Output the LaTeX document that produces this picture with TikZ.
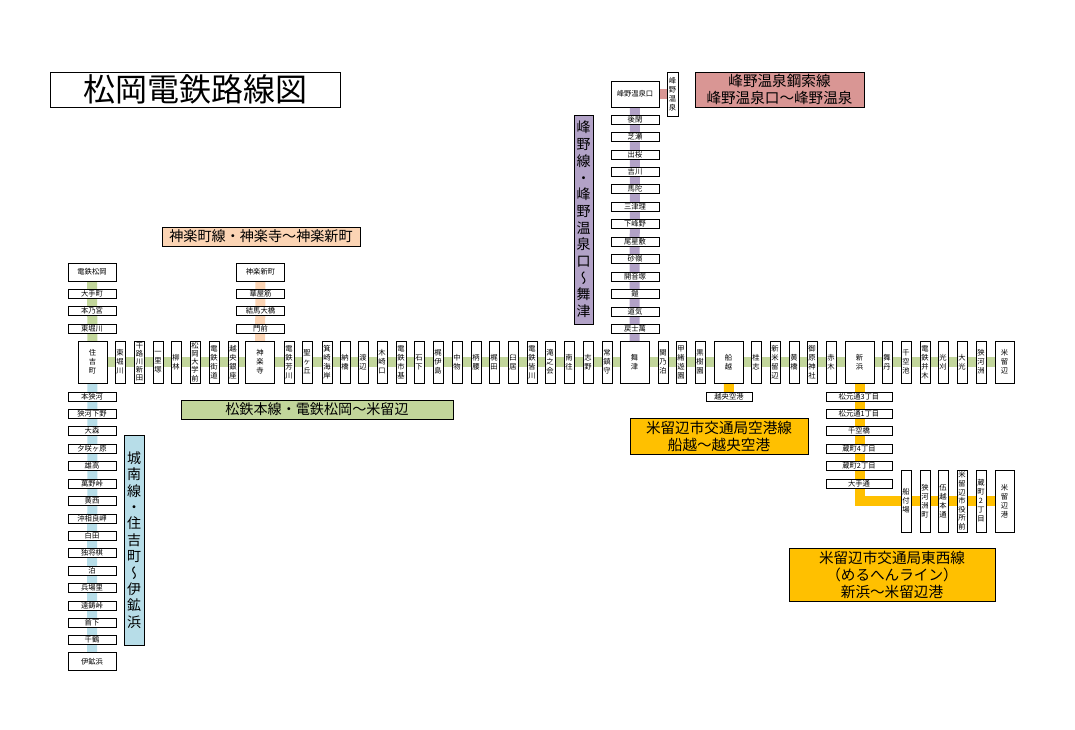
\documentclass[tikz,border=0pt]{standalone}
\usepackage{fontspec}
\setmainfont{Noto Sans CJK JP}
\newfontfamily\tatefont[RawFeature=+vert]{Noto Sans CJK JP}
\usetikzlibrary{backgrounds}

\definecolor{honsen}{RGB}{194,214,155}
\definecolor{jonan}{RGB}{183,221,232}
\definecolor{kagura}{RGB}{251,212,180}
\definecolor{mineno}{RGB}{178,162,199}
\definecolor{kosaku}{RGB}{217,150,148}
\definecolor{kotsu}{RGB}{255,192,0}

% characters stacked one under another
\makeatletter
\def\tateloop{\@tfor\tatechar:=}
\newcommand{\tate}[2][9pt]{\edef\tatelist{#2}\vbox{\baselineskip=#1\lineskiplimit=-100pt
	\expandafter\tateloop\tatelist\do{\hbox to 1em{\hss\tatechar\hss}}}}
\makeatother

\tikzset{
	stn/.style={draw=black,fill=white,line width=.8pt,inner sep=0pt,font=\fontsize{7.3}{9}\selectfont},
	yokobox/.style={stn,minimum width=48pt,minimum height=9pt},
	yokobig/.style={stn,minimum width=48pt,minimum height=18pt},
	tatebox/.style={stn,minimum width=10pt,minimum height=42pt},
	tatebig/.style={stn,minimum width=29pt,minimum height=42pt},
	tatelow/.style={stn,minimum width=10pt,minimum height=62pt},
	sen/.style={line width=#1,line join=miter},
	sen/.default=10pt,
	label/.style={draw=black,line width=.8pt,inner sep=0pt,align=center,font=\fontsize{14.6}{17}\selectfont},
	labelone/.style={label,font=\fontsize{14.1}{17}\selectfont},
	labeltate/.style={label,font=\fontsize{14}{17}\tatefont}
}

\begin{document}
\begin{tikzpicture}[x=1pt,y=-1pt]
	\useasboundingbox (0,0) rectangle (1075,729);

	% title
	\node[draw=black,line width=.8pt,inner sep=0pt,minimum width=290pt,minimum height=35pt,font=\fontsize{32}{35}\selectfont] (title) at (195,89.5) {松岡電鉄路線図};

	% main line, wide stations
	\foreach \x/\n/\s in {92.5/sumiyoshi/住吉町,260/kagurajibox/神楽寺,634.5/maizu/舞津,728.5/funakoshi/船越,859.5/shinhama/新浜}
		\node[tatebig] (\n) at (\x,362) {\tate{\s}};
	\node[stn,minimum width=19pt,minimum height=42pt] (yonerube) at (1004.5,362) {\tate{米留辺}};

	% main line, narrow stations
	\foreach \x/\n/\s in {120/hon1/東堀川,158/hon3/一里塚,176/hon4/柳林,214/hon6/電鉄街道,233/hon7/越央銀座,
		289/hon8/電鉄芳川,307/hon9/聖ヶ丘,327/hon10/箕崎海岸,345/hon11/納橋,363/hon12/渡辺,382/hon13/木崎口,
		401/hon14/電鉄市基,419/hon15/石下,438/hon16/梶伊島,457/hon17/中物,476/hon18/柄腰,494/hon19/梶田,
		513/hon20/臼居,532/hon21/電鉄皆川,550/hon22/滝之会,569/hon23/南往,588/hon24/志野,607/hon25/常鎮守,
		663/hon26/関乃泊,681/hon27/甲緒遊園,700/hon28/黒樹園,756/hon29/桂志,775/hon30/新米留辺,794/hon31/黄橋,
		812/hon32/御原神社,831/hon33/赤木,887/hon34/舞丹,906/hon35/千空池,925/hon36/電鉄并木,943/hon37/光刈,
		962/hon38/大光,981/hon39/狭河洲}
		\node[tatebox] (\n) at (\x,362) {\tate{\s}};
	\foreach \x/\n/\s in {139.5/hon2/干路川新田,195/hon5/松岡大学前}
		\node[tatebox] (\n) at (\x,362) {\tate[8.2pt]{\s}};

	% Jonan line
	\node[yokobig] (dentetsu) at (92,272) {電鉄松岡};
	\foreach \y/\n/\s in {293.5/ote/大手町,311/motono/本乃宮,328.5/higashi/東堀川}
		\node[yokobox] (\n) at (92,\y) {\s};
	\foreach \y/\n/\s in {396.5/jo1/本狭河,413.5/jo2/狭河下野,431/jo3/大森,448.5/jo4/夕咲ヶ原,466/jo5/雄高,483.5/jo6/萬野峠,
		501/jo7/黄西,518.5/jo8/沖相良岬,536/jo9/白田,553/jo10/独将棋,570.5/jo11/泊,587.5/jo12/兵場里,605.5/jo13/遠鋳峠,
		622.5/jo14/首下,640/jo15/千鶴}
		\node[yokobox] (\n) at (92,\y) {\s};
	\node[yokobig] (ikohama) at (92,661.5) {伊鉱浜};

	% Kagura line
	\node[yokobig] (kagurashin) at (260.5,272) {神楽新町};
	\foreach \y/\n/\s in {293.5/kag1/華屋筋,311/kag2/結馬大橋,328.5/kag3/門前}
		\node[yokobox] (\n) at (260.5,\y) {\s};

	% Mineno line
	\node[stn,minimum width=48pt,minimum height=26pt] (minenoguchi) at (635,94) {峰野温泉口};
	\foreach \y/\n/\s in {119.5/min1/後閑,136.5/min2/芝瀬,154.5/min3/出桜,171.5/min4/吉川,189/min5/馬陀,206.5/min6/三津理,
		223.5/min7/下峰野,241.5/min8/尾星敷,258.5/min9/砂嶺,276.5/min10/開音塚,293.5/min11/鎧,311.5/min12/道気,328.5/min13/戻士萬}
		\node[yokobox] (\n) at (635,\y) {\s};
	\node[stn,minimum width=11pt,minimum height=44pt] (minenoonsen) at (672.5,94) {\tate{峰野温泉}};

	% airport line
	\node[yokobox,minimum width=46pt] (etsuo) at (729,396.5) {越央空港};

	% east-west line
	\foreach \y/\n/\s in {396.5/to1/松元通3丁目,413.5/to2/松元通1丁目,431/to3/千空橋,448.5/to4/蔵町4丁目,466/to5/蔵町2丁目,483.5/to6/大手通}
		\node[yokobox,minimum width=66pt] (\n) at (859,\y) {\s};
	\foreach \x/\n/\s in {906/to7/船付場,925/to8/狭河洲町,943/to9/伍越本通,981/to11/蔵町2丁目}
		\node[tatelow] (\n) at (\x,501) {\tate{\s}};
	\node[tatelow] (to10) at (962,501) {\tate[8.6pt]{米留辺市役所前}};
	\node[stn,minimum width=19pt,minimum height=62pt] (yonerubeko) at (1004.5,501) {\tate{米留辺港}};

	% line names
	\node[labeltate,fill=jonan,minimum width=20pt,minimum height=210pt] (jonanname) at (134,540) {\tate[16.4pt]{城南線・住吉町〜伊鉱浜}};
	\node[labelone,fill=honsen,minimum width=272pt,minimum height=19pt] (honsenname) at (317,409.5) {松鉄本線・電鉄松岡〜米留辺};
	\node[labelone,fill=kagura,minimum width=198pt,minimum height=19pt] (kaguraname) at (261,236.5) {神楽町線・神楽寺〜神楽新町};
	\node[labeltate,fill=mineno,minimum width=19pt,minimum height=209pt] (minenoname) at (583.5,219.5) {\tate[16.7pt]{峰野線・峰野温泉口〜舞津}};
	\node[label,fill=kosaku,minimum width=169pt,minimum height=35pt] (kosakuname) at (779.5,89.5) {峰野温泉鋼索線\\峰野温泉口〜峰野温泉};
	\node[label,fill=kotsu,minimum width=178pt,minimum height=36pt] (kukoname) at (719,436) {米留辺市交通局空港線\\船越〜越央空港};
	\node[label,fill=kotsu,minimum width=206pt,minimum height=53pt] (tozainame) at (892,574.5) {米留辺市交通局東西線\\（めるへんライン）\\新浜〜米留辺港};

	% the lines run behind the stations
	\begin{scope}[on background layer]
		\draw[sen,honsen] (sumiyoshi.center) -- (yonerube.center);
		\draw[sen,honsen] (dentetsu.center) -- (sumiyoshi.center);
		\draw[sen,jonan] (sumiyoshi.center) -- (ikohama.center);
		\draw[sen,kagura] (kagurashin.center) -- (kagurajibox.center);
		\draw[sen,mineno] (minenoguchi.center) -- (maizu.center);
		\draw[sen,kosaku] (minenoguchi.center) -- (minenoonsen.center);
		\draw[sen,kotsu] (funakoshi.center) -- (etsuo.center);
		\draw[sen,kotsu] (shinhama.center) |- (yonerubeko.center);
	\end{scope}
\end{tikzpicture}
\end{document}
